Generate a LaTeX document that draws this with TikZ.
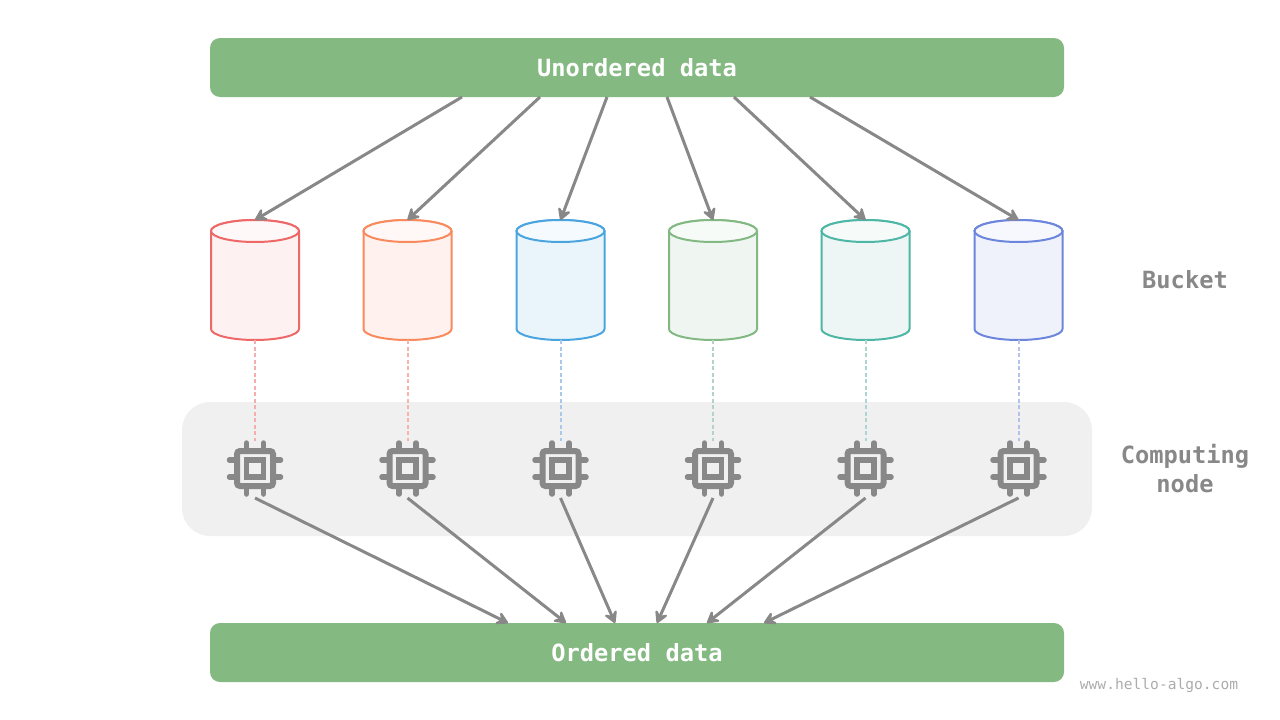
\documentclass[tikz,border=0pt]{standalone}
\usepackage{fontspec}
\setmonofont{DejaVu Sans Mono}
\usetikzlibrary{arrows.meta}

\definecolor{barcol}{HTML}{84B982}
\definecolor{panelcol}{HTML}{F0F0F0}
\definecolor{graycol}{HTML}{888888}
\definecolor{line1}{HTML}{EE6868}
\definecolor{line2}{HTML}{F98A5E}
\definecolor{line3}{HTML}{4AA4E0}
\definecolor{line4}{HTML}{82B882}
\definecolor{line5}{HTML}{4DB6A5}
\definecolor{line6}{HTML}{6B86DC}
\definecolor{dash1}{HTML}{F4AEAE}
\definecolor{dash2}{HTML}{F7B3A8}
\definecolor{dash3}{HTML}{A9C8EA}
\definecolor{dash4}{HTML}{B3D3C4}
\definecolor{dash5}{HTML}{ADD5CF}
\definecolor{dash6}{HTML}{B3C1EC}
\definecolor{body1}{HTML}{FDF1F1}
\definecolor{body2}{HTML}{FEF1EE}
\definecolor{body3}{HTML}{E9F5FB}
\definecolor{body4}{HTML}{EFF6F2}
\definecolor{body5}{HTML}{EDF6F4}
\definecolor{body6}{HTML}{EFF2FB}
\definecolor{cap1}{HTML}{FEF8F8}
\definecolor{cap2}{HTML}{FFF8F6}
\definecolor{cap3}{HTML}{F4FAFD}
\definecolor{cap4}{HTML}{F7FBF8}
\definecolor{cap5}{HTML}{F6FBFA}
\definecolor{cap6}{HTML}{F7F8FD}

\tikzset{
    cpu/.pic={
        \draw[line width=6pt,rounded corners=3pt] (-18,-17.5) rectangle (18,17.5);
        \draw[line width=5.5pt] (-8.5,-8.5) rectangle (8.5,8.5);
        \foreach \p in {-8.5,8.5} {
            \draw[line width=5.5pt,line cap=round] (\p,-25.5) -- (\p,-20);
            \draw[line width=5.5pt,line cap=round] (\p,20) -- (\p,25.5);
            \draw[line width=5.5pt,line cap=round] (-25.5,\p) -- (-20,\p);
            \draw[line width=5.5pt,line cap=round] (20,\p) -- (25.5,\p);
        }
    }
}

\begin{document}
\begin{tikzpicture}[x=1pt,y=-1pt]
    \tikzstyle{bar}=[fill=barcol,rounded corners=10pt,minimum width=854pt,minimum height=59pt,inner sep=0pt,outer sep=0pt,text=white,font=\ttfamily\bfseries\fontsize{23.7pt}{29pt}\selectfont]
    \tikzstyle{bucket}=[minimum width=88pt,minimum height=120pt,inner sep=0pt,outer sep=0pt]
    \tikzstyle{tag}=[text=graycol,align=center,font=\ttfamily\bfseries\fontsize{23.7pt}{29pt}\selectfont]
    \tikzstyle{arrow}=[draw=graycol,line width=3pt,-{Stealth[length=15pt,width=17pt,inset=6pt,round]}]
    \useasboundingbox (0,0) rectangle (1280,720);

    \node[fill=panelcol,rounded corners=28pt,minimum width=910pt,minimum height=134pt,inner sep=0pt] (panel) at (637,469) {};
    \node[bar] (unordered) at (637,67.5) {Unordered data};
    \node[bar] (ordered) at (637,652.5) {Ordered data};
    \node[tag] (bucketlabel) at (1185,280) {Bucket};
    \node[tag] (nodelabel) at (1185,469) {Computing\\node};
    \node[text=graycol!70,font=\ttfamily\fontsize{14.6pt}{18pt}\selectfont] (site) at (1159,685) {www.hello-algo.com};

    \foreach \num/\x/\top/\bot in {1/255/462/508, 2/407.5/540/566, 3/560.5/607/615, 4/713/667/657, 5/865.5/734/707, 6/1018.5/810/764} {
        \node[bucket] (B-\num) at (\x,280) {};
        \draw[draw=line\num,fill=body\num,line width=2pt] (\x-44,231) -- (\x-44,329) arc (180:360:44pt and 11pt) -- (\x+44,231) arc (0:180:44pt and 11pt) -- cycle;
        \draw[draw=line\num,fill=cap\num,line width=2pt] (\x,231) ellipse (44pt and 11pt);
        \coordinate (C-\num) at (\x,468.5);
        \coordinate (CT-\num) at (\x,441);
        \coordinate (CB-\num) at (\x,498);
        \coordinate (U-\num) at (\top,97);
        \coordinate (O-\num) at (\bot,623);
        \pic[draw=graycol] at (C-\num) {cpu};
        \draw[draw=dash\num,line width=2pt,dash pattern=on 4pt off 2.5pt] (B-\num.south) -- (CT-\num);
        \draw[arrow] (U-\num) -- (B-\num.north);
        \draw[arrow] (CB-\num) -- (O-\num);
    }
\end{tikzpicture}
\end{document}
